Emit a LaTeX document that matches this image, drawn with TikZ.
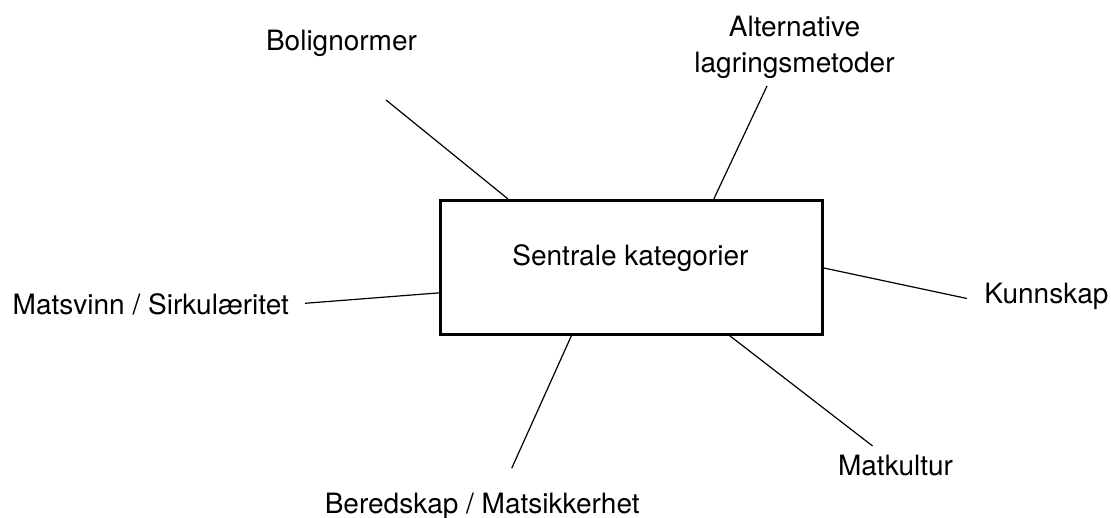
\documentclass[tikz,border=0pt]{standalone}
\usepackage{fontspec}
\setmainfont{TeX Gyre Heros}
\usetikzlibrary{calc}
\begin{document}
\begin{tikzpicture}[x=1pt,y=-1pt,
  lbl/.style={anchor=base,inner sep=0pt,font=\fontsize{28}{36}\selectfont,align=center},
  hub/.style={draw=black,line width=2.7pt,inner sep=0pt,minimum width=382pt,minimum height=134.3pt},
  spoke/.style={draw=black,line width=1.2pt}]
  % page area
  \fill[white] (0,0) rectangle (1111,518);
  \useasboundingbox (0,0) rectangle (1111,518);

  % central box and its title
  \node[hub] (box) at (631.7,267.35) {};
  \node[lbl] (title) at (630.4,266) {Sentrale kategorier};

  % surrounding categories (base of a two-line label is its last line)
  \node[lbl] (bol) at (341.5,51) {Bolignormer};
  \node[lbl] (alt) at (794.5,72.7) {Alternative\\lagringsmetoder};
  \node[lbl] (kun) at (1046.4,303.3) {Kunnskap};
  \node[lbl] (mat) at (895.5,475) {Matkultur};
  \node[lbl] (ber) at (482.2,513) {Beredskap / Matsikkerhet};
  \node[lbl] (msv) at (150.8,315) {Matsvinn / Sirkulæritet};

  % free ends of the spokes, next to each label
  \coordinate (bolend) at (386,100);
  \coordinate (altend) at (767,86);
  \coordinate (kunend) at (967,298.5);
  \coordinate (matend) at (872.6,446);
  \coordinate (berend) at (511.7,468.3);
  \coordinate (msvend) at (305,303.3);

  % spokes from the box edges
  \draw[spoke] ([xshift=68.5pt]box.north west) -- (bolend);
  \draw[spoke] ([xshift=274.5pt]box.north west) -- (altend);
  \draw[spoke] ([yshift=-0.7pt]box.east) -- (kunend);
  \draw[spoke] ([xshift=290.5pt]box.south west) -- (matend);
  \draw[spoke] ([xshift=132pt]box.south west) -- (berend);
  \draw[spoke] ([yshift=-25.5pt]box.west) -- (msvend);
\end{tikzpicture}
\end{document}
